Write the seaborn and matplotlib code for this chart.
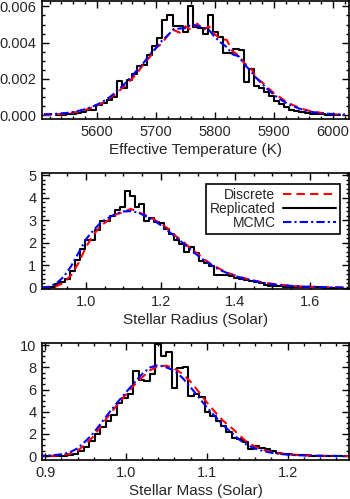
import numpy as np
import pandas as pd
import matplotlib
matplotlib.use("Agg")
import matplotlib.pyplot as plt
from matplotlib.lines import Line2D
from matplotlib.ticker import MultipleLocator, FormatStrFormatter
import seaborn as sns

# ---- panel 1: effective temperature ----
teff_start, teff_width = 5530.4, 8.6
teff_repl = [0.00000, 0.00002, 0.00005, 0.00008, 0.00012, 0.00018, 0.00030, 0.00030, 0.00055, 0.00065,
             0.00085, 0.00100, 0.00190, 0.00150, 0.00195, 0.00225, 0.00270, 0.00275, 0.00330, 0.00380,
             0.00425, 0.00525, 0.00555, 0.00490, 0.00490, 0.00460, 0.00600, 0.00485, 0.00480, 0.00445,
             0.00550, 0.00460, 0.00430, 0.00340, 0.00340, 0.00365, 0.00360, 0.00185, 0.00255, 0.00160,
             0.00150, 0.00125, 0.00105, 0.00080, 0.00060, 0.00045, 0.00030, 0.00025, 0.00015, 0.00012,
             0.00008, 0.00005, 0.00003, 0.00002, 0.00001, 0.00000]
teff_grid = list(range(5510, 6030, 10))
teff_disc = [0.00001, 0.00002, 0.00004, 0.00006, 0.00010, 0.00014, 0.00020, 0.00028, 0.00039, 0.00052,
             0.00068, 0.00090, 0.00112, 0.00140, 0.00170, 0.00202, 0.00240, 0.00285, 0.00322, 0.00370,
             0.00395, 0.00440, 0.00470, 0.00455, 0.00490, 0.00470, 0.00505, 0.00470, 0.00490, 0.00445,
             0.00420, 0.00415, 0.00352, 0.00330, 0.00285, 0.00265, 0.00205, 0.00180, 0.00150, 0.00120,
             0.00098, 0.00075, 0.00058, 0.00044, 0.00032, 0.00023, 0.00017, 0.00012, 0.00008, 0.00005,
             0.00003, 0.00002]
teff_mcmc = [0.00004, 0.00005, 0.00007, 0.00009, 0.00012, 0.00017, 0.00024, 0.00032, 0.00043, 0.00057,
             0.00074, 0.00095, 0.00120, 0.00150, 0.00182, 0.00218, 0.00255, 0.00292, 0.00335, 0.00370,
             0.00410, 0.00440, 0.00475, 0.00478, 0.00480, 0.00500, 0.00492, 0.00485, 0.00470, 0.00430,
             0.00400, 0.00375, 0.00335, 0.00325, 0.00280, 0.00245, 0.00205, 0.00172, 0.00140, 0.00112,
             0.00088, 0.00068, 0.00052, 0.00039, 0.00028, 0.00020, 0.00014, 0.00010, 0.00007, 0.00005,
             0.00004, 0.00003]

# ---- panel 2: stellar radius ----
rad_start, rad_width = 0.904, 0.0133
rad_repl = [0.05, 0.15, 0.25, 0.40, 0.75, 1.25, 1.72, 2.10, 2.10, 2.55,
            2.95, 2.95, 3.20, 3.45, 3.60, 4.30, 4.05, 3.60, 3.70, 2.95,
            3.10, 2.90, 2.85, 2.60, 2.40, 2.10, 1.95, 1.60, 1.80, 1.55,
            1.20, 1.10, 0.95, 0.55, 0.55, 0.55, 0.50, 0.45, 0.40, 0.35,
            0.30, 0.25, 0.20, 0.12, 0.08, 0.07, 0.06, 0.05, 0.04, 0.03,
            0.03, 0.02, 0.02, 0.01, 0.01, 0.00, 0.00, 0.00]
rad_grid = [round(0.88 + 0.02 * i, 2) for i in range(42)]
rad_disc = [0.00, 0.01, 0.06, 0.22, 0.55, 1.10, 1.80, 2.35, 2.75, 3.00,
            3.25, 3.35, 3.50, 3.35, 3.22, 3.05, 2.85, 2.62, 2.30, 2.05,
            1.75, 1.50, 1.22, 1.00, 0.82, 0.66, 0.54, 0.44, 0.36, 0.28,
            0.22, 0.17, 0.13, 0.10, 0.07, 0.05, 0.04, 0.03, 0.02, 0.01,
            0.01, 0.00]
rad_mcmc = [0.00, 0.04, 0.18, 0.48, 0.95, 1.55, 2.15, 2.55, 2.90, 3.10,
            3.28, 3.38, 3.40, 3.33, 3.18, 3.00, 2.78, 2.52, 2.25, 1.98,
            1.70, 1.42, 1.18, 0.96, 0.78, 0.64, 0.52, 0.42, 0.34, 0.27,
            0.20, 0.15, 0.12, 0.09, 0.07, 0.05, 0.04, 0.03, 0.02, 0.01,
            0.01, 0.00]

# ---- panel 3: stellar mass ----
mass_start, mass_width = 0.900, 0.0068
mass_repl = [0.00, 0.00, 0.02, 0.05, 0.10, 0.20, 0.45, 0.80, 1.40, 2.00,
             2.60, 3.20, 3.70, 4.80, 5.20, 5.60, 7.70, 6.90, 6.80, 7.40,
             10.10, 9.00, 9.40, 6.10, 7.90, 8.00, 5.40, 5.60, 5.30, 4.00,
             3.60, 3.20, 2.70, 2.20, 1.60, 1.50, 1.30, 0.60, 0.90, 0.70,
             0.60, 0.45, 0.30, 0.20, 0.15, 0.10, 0.08, 0.06, 0.04, 0.03,
             0.02, 0.01, 0.00, 0.00]
mass_grid = [round(0.89 + 0.01 * i, 2) for i in range(40)]
mass_disc = [0.00, 0.01, 0.03, 0.08, 0.20, 0.50, 1.05, 1.80, 2.80, 3.80,
             4.70, 5.55, 6.40, 7.10, 7.75, 8.10, 8.15, 7.90, 7.40, 6.70,
             5.80, 4.85, 4.00, 3.20, 2.60, 1.90, 1.25, 0.85, 0.55, 0.38,
             0.25, 0.17, 0.11, 0.07, 0.05, 0.03, 0.02, 0.01, 0.01, 0.00]
mass_mcmc = [0.02, 0.04, 0.08, 0.16, 0.32, 0.70, 1.35, 2.10, 3.05, 4.00,
             4.90, 5.75, 6.60, 7.40, 8.00, 8.20, 8.00, 7.70, 7.05, 6.20,
             5.30, 4.40, 3.60, 2.80, 2.15, 1.50, 1.00, 0.68, 0.45, 0.30,
             0.20, 0.13, 0.09, 0.06, 0.04, 0.03, 0.02, 0.01, 0.01, 0.00]

labels = ["Discrete", "Replicated", "MCMC"]

sns.set_style("ticks")
plt.rcParams["font.family"] = ["Liberation Sans", "DejaVu Sans"]

fig = plt.figure(figsize=(3.5, 4.99), dpi=100)
ax1 = fig.add_axes([0.12, 0.7615, 0.877, 0.2365])
ax2 = fig.add_axes([0.12, 0.4208, 0.877, 0.2325])
ax3 = fig.add_axes([0.12, 0.0782, 0.877, 0.2345])

LW = 1.5
DASH = (0, (4, 2.5))
DASHDOT = (0, (4, 1.5, 1, 1.5))


def draw(ax, start, width, repl, grid, disc, mcmc):
    edges = [start + width * k for k in range(len(repl) + 1)]
    hist = pd.DataFrame({"x": [e + width / 2 for e in edges[:-1]], "w": repl})
    sns.histplot(data=hist, x="x", weights="w", bins=edges, element="step", fill=False,
                 color="black", linewidth=LW, ax=ax)
    sns.lineplot(x=grid, y=disc, color="red", linewidth=LW, linestyle=DASH, ax=ax)
    sns.lineplot(x=grid, y=mcmc, color="blue", linewidth=LW, linestyle=DASHDOT, ax=ax)
    ax.set_ylabel("")
    for s in ax.spines.values():
        s.set_visible(True)
        s.set_linewidth(1.2)
        s.set_color("black")
    ax.tick_params(which="both", direction="in", top=True, right=True,
                   labelsize=10.5, width=1.0, pad=4, color="black")
    ax.tick_params(which="major", length=5)
    ax.tick_params(which="minor", length=2.5)


draw(ax1, teff_start, teff_width, teff_repl, teff_grid, teff_disc, teff_mcmc)
ax1.set_xlim(5507, 6027)
ax1.set_ylim(-0.00022, 0.0063)
ax1.xaxis.set_major_locator(MultipleLocator(100))
ax1.xaxis.set_minor_locator(MultipleLocator(20))
ax1.yaxis.set_major_locator(MultipleLocator(0.002))
ax1.yaxis.set_minor_locator(MultipleLocator(0.0005))
ax1.yaxis.set_major_formatter(FormatStrFormatter("%.3f"))
ax1.set_xlabel("Effective Temperature (K)", fontsize=11, labelpad=3)

draw(ax2, rad_start, rad_width, rad_repl, rad_grid, rad_disc, rad_mcmc)
ax2.set_xlim(0.882, 1.705)
ax2.set_ylim(-0.06, 5.09)
ax2.xaxis.set_major_locator(MultipleLocator(0.2))
ax2.xaxis.set_minor_locator(MultipleLocator(0.05))
ax2.xaxis.set_major_formatter(FormatStrFormatter("%.1f"))
ax2.yaxis.set_major_locator(MultipleLocator(1))
ax2.yaxis.set_minor_locator(MultipleLocator(0.2))
ax2.set_xlabel("Stellar Radius (Solar)", fontsize=11, labelpad=3)

handles = [Line2D([], [], color="red", lw=LW, linestyle=DASH),
           Line2D([], [], color="black", lw=LW),
           Line2D([], [], color="blue", lw=LW, linestyle=DASHDOT)]
leg = ax2.legend(handles, labels, loc="upper right", bbox_to_anchor=(0.971, 0.905),
                 borderaxespad=0, markerfirst=False, alignment="right", fontsize=10,
                 handlelength=3.8, labelspacing=0.0, borderpad=0.3, handletextpad=0.55,
                 fancybox=False, framealpha=1, edgecolor="black")
leg.get_frame().set_linewidth(1.2)

draw(ax3, mass_start, mass_width, mass_repl, mass_grid, mass_disc, mass_mcmc)
ax3.set_xlim(0.896, 1.276)
ax3.set_ylim(-0.35, 10.2)
ax3.xaxis.set_major_locator(MultipleLocator(0.1))
ax3.xaxis.set_minor_locator(MultipleLocator(0.02))
ax3.xaxis.set_major_formatter(FormatStrFormatter("%.1f"))
ax3.yaxis.set_major_locator(MultipleLocator(2))
ax3.yaxis.set_minor_locator(MultipleLocator(0.5))
ax3.set_xlabel("Stellar Mass (Solar)", fontsize=11, labelpad=3)

fig.savefig("out.png", dpi=100)
